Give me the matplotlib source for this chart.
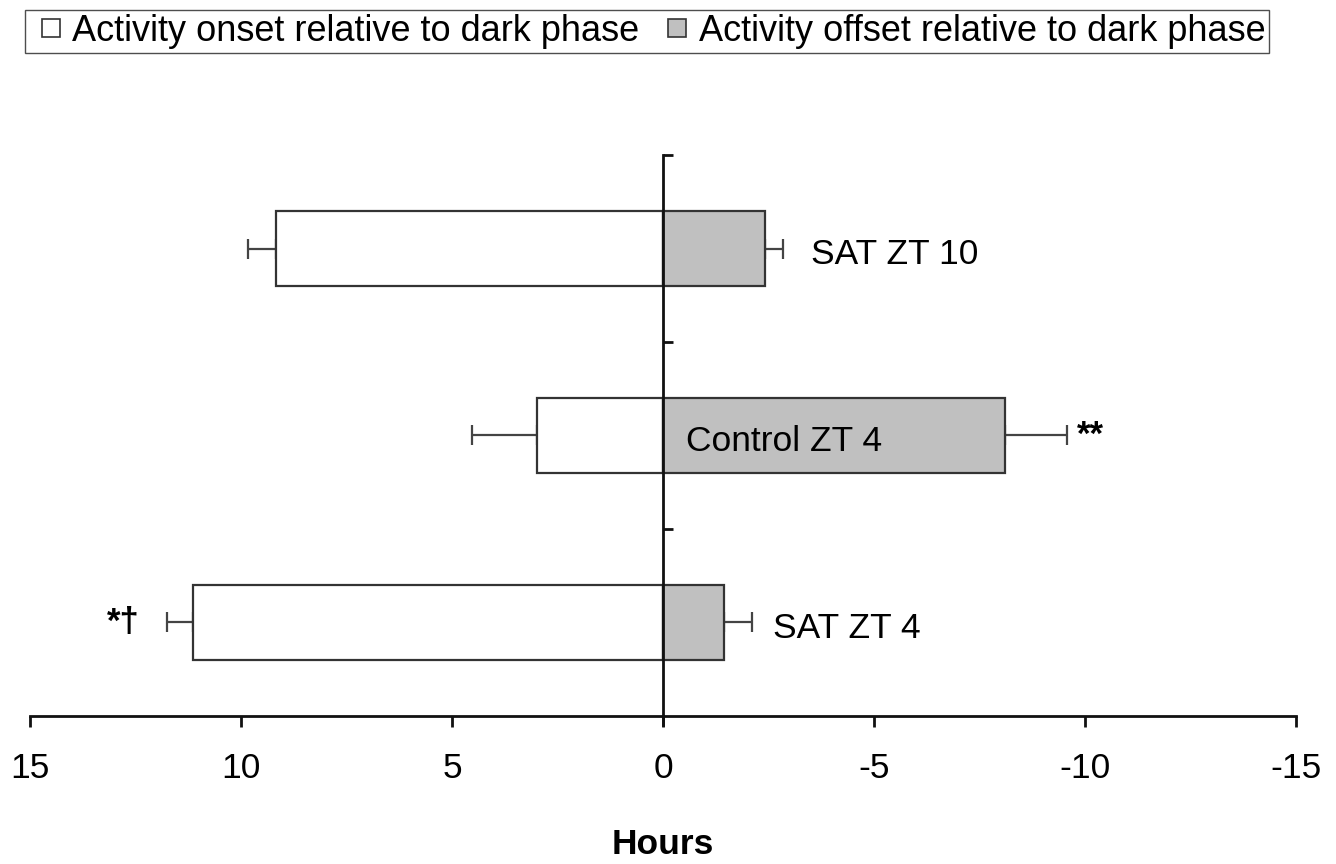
import matplotlib.pyplot as plt
from matplotlib.lines import Line2D
import numpy as np

plt.rcParams['font.family'] = ['Liberation Sans', 'DejaVu Sans']

groups = ['SAT ZT 4', 'Control ZT 4', 'SAT ZT 10']
onset = [11.14, 2.99, 9.17]        # hours before dark phase
onset_err = [0.62, 1.54, 0.66]
offset = [-1.45, -8.10, -2.42]     # hours after dark phase
offset_err = [0.66, 1.47, 0.43]
label_x = [-2.6, -0.55, -3.5]
marks = ['*\u2020', '**', '']
mark_x = [12.4, -9.8, 0]


def main() -> None:
    fig = plt.figure(figsize=(13.36, 8.64), dpi=100)
    ax = fig.add_axes([0.0225, 0.1713, 0.9475, 0.6493])

    y = np.arange(len(groups)) + 0.5
    h = 0.4
    ax.barh(y, onset, height=h, color='white', edgecolor='#333333', linewidth=1.6, zorder=2)
    ax.barh(y, offset, height=h, color='#c0c0c0', edgecolor='#333333', linewidth=1.6, zorder=2)

    zeros = np.zeros(len(groups))
    ax.errorbar(onset, y, xerr=[zeros, onset_err], fmt='none', ecolor='#444444',
                elinewidth=1.6, capsize=7, capthick=1.6, zorder=1)
    ax.errorbar(offset, y, xerr=[offset_err, zeros], fmt='none', ecolor='#444444',
                elinewidth=1.6, capsize=7, capthick=1.6, zorder=1)

    for yi, name, lx in zip(y, groups, label_x):
        ax.text(lx, yi - 0.03, name, ha='left', va='center', fontsize=25.5, zorder=3)
    for yi, m, mx in zip(y, marks, mark_x):
        if m:
            ax.text(mx, yi, m, ha='left' if mx < 0 else 'right', va='center',
                    fontsize=25, fontweight='bold')

    ax.set_xlim(15, -15)
    ax.set_ylim(0, 3)
    ax.set_xticks([15, 10, 5, 0, -5, -10, -15])
    ax.set_xticklabels(['15', '10', '5', '0', '-5', '-10', '-15'])
    ax.set_yticks([1, 2, 3])
    ax.set_yticklabels([])

    ax.spines['top'].set_visible(False)
    ax.spines['right'].set_visible(False)
    ax.spines['left'].set_position(('data', 0))
    ax.spines['left'].set_zorder(4)
    for s in ('left', 'bottom'):
        ax.spines[s].set_linewidth(2)
        ax.spines[s].set_color('#111111')
    ax.tick_params(axis='y', direction='in', length=7, width=2, color='#111111')
    ax.tick_params(axis='x', direction='out', length=8, width=2, color='#111111',
                   labelsize=25.5, pad=18)
    ax.plot([0, 0], [0, -0.05], color='#111111', lw=2, clip_on=False, zorder=4)

    ax.set_xlabel('Hours', fontsize=25.5, fontweight='bold', labelpad=31)

    handles = [Line2D([], [], ls='none', marker='s', markersize=12.5,
                      markerfacecolor='white', markeredgecolor='#333333', markeredgewidth=1.2),
               Line2D([], [], ls='none', marker='s', markersize=12.5,
                      markerfacecolor='#c0c0c0', markeredgecolor='#333333', markeredgewidth=1.2)]
    fig.legend(handles, ['Activity onset relative to dark phase',
                         'Activity offset relative to dark phase'],
               loc='upper left', bbox_to_anchor=(0.019, 0.988), ncol=2,
               fontsize=26, frameon=True, fancybox=False, edgecolor='#222222',
               handlelength=1.2, handletextpad=0.0,
               columnspacing=0.45, borderpad=0.1, borderaxespad=0)

    fig.savefig('out.png', dpi=100, facecolor='white')


if __name__ == '__main__':
    main()
